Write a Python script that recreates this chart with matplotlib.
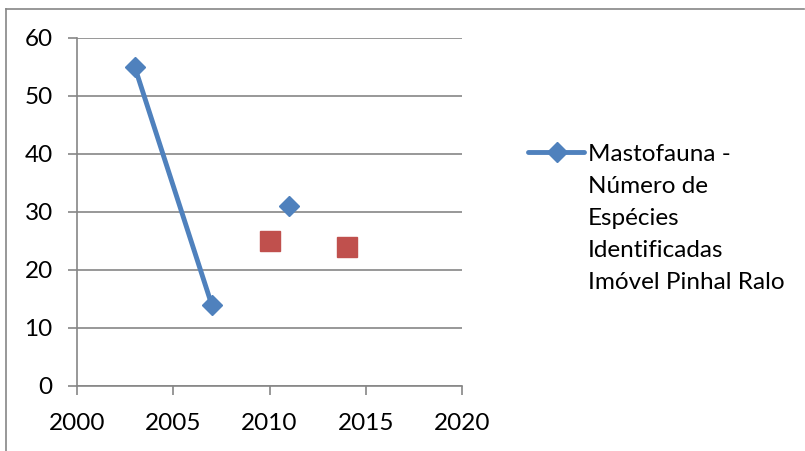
import matplotlib

matplotlib.use("Agg")
import matplotlib.pyplot as plt
from matplotlib.lines import Line2D

plt.rcParams["font.family"] = ["Lato", "DejaVu Sans"]

# Mastofauna - species counts per survey year
blue_years = [2003, 2007]
blue_counts = [55, 14]
blue_extra_year = [2011]
blue_extra_count = [31]
red_years = [2010, 2014]
red_counts = [25, 24]

x_ticks = [2000, 2005, 2010, 2015, 2020]
y_ticks = [0, 10, 20, 30, 40, 50, 60]
legend_label = "Mastofauna -\nNúmero de\nEspécies\nIdentificadas\nImóvel Pinhal Ralo"

BLUE = "#4F81BD"
RED = "#C0504D"
GRAY = "#868686"
FS = 17.5

fig = plt.figure(figsize=(8.05, 4.51), dpi=100)
ax = fig.add_axes([77 / 805, 1 - 386 / 451, 385 / 805, 348 / 451])

ax.plot(blue_years, blue_counts, color=BLUE, lw=3.5, marker="D", ms=10,
        solid_capstyle="round", zorder=3)
ax.plot(blue_extra_year, blue_extra_count, color=BLUE, lw=0, marker="D", ms=10,
        zorder=3)
ax.plot(red_years, red_counts, color=RED, lw=0, marker="s", ms=14, zorder=3)

ax.set_xlim(2000, 2020)
ax.set_ylim(0, 60)
ax.set_xticks(x_ticks)
ax.set_yticks(y_ticks)
ax.tick_params(axis="both", direction="out", length=6.5, width=1.2, color=GRAY,
               labelsize=FS)
ax.tick_params(axis="x", pad=13)
ax.tick_params(axis="y", pad=11)
ax.grid(axis="y", color=GRAY, lw=1.2)
ax.set_axisbelow(True)
for side in ("top", "right"):
    ax.spines[side].set_visible(False)
for side in ("left", "bottom"):
    ax.spines[side].set_color(GRAY)
    ax.spines[side].set_linewidth(1.2)

# legend entry for the blue series only (handle sits on the first text line)
fig.add_artist(Line2D([528 / 805, 584 / 805], [1 - 152 / 451] * 2,
                      color=BLUE, lw=3.5, solid_capstyle="round",
                      transform=fig.transFigure))
fig.add_artist(Line2D([557 / 805], [1 - 152 / 451], color=BLUE, lw=0,
                      marker="D", ms=10, transform=fig.transFigure))
fig.text(588 / 805, 1 - 289 / 451, legend_label, fontsize=FS, va="baseline",
         ha="left", linespacing=1.64, transform=fig.transFigure)

# chart frame
fig.add_artist(Line2D([6 / 805, 804 / 805], [1 - 9 / 451] * 2, color=GRAY,
                      lw=1.2, transform=fig.transFigure))
fig.add_artist(Line2D([6 / 805] * 2, [1 - 9 / 451, 0], color=GRAY,
                      lw=1.2, transform=fig.transFigure))

fig.savefig("out.png", dpi=100)
